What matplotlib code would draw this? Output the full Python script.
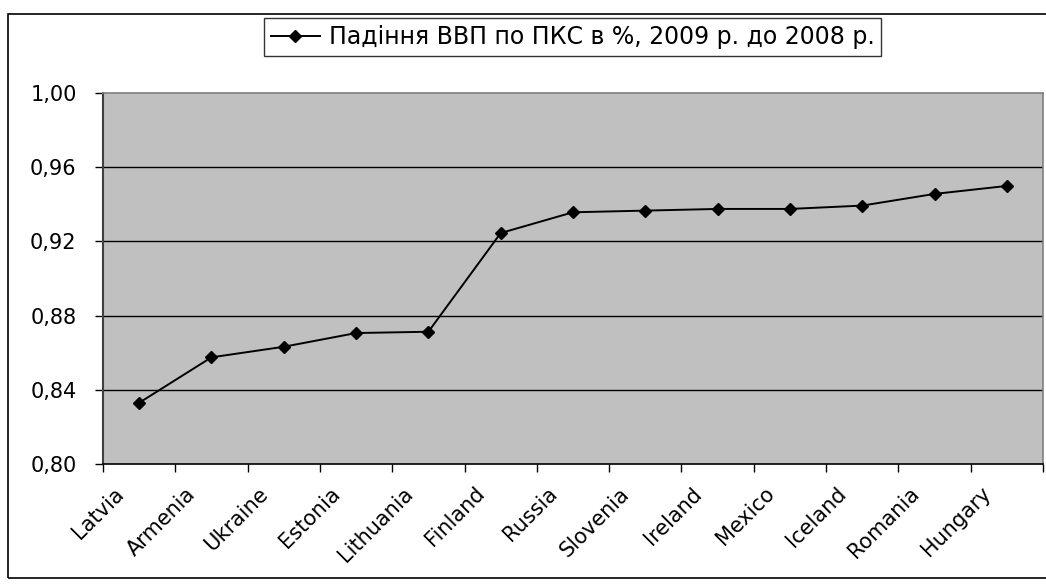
import matplotlib
matplotlib.use("Agg")
import matplotlib.pyplot as plt
from matplotlib.patches import Rectangle
from matplotlib.ticker import FixedLocator, FuncFormatter
from matplotlib.transforms import ScaledTranslation

countries = ["Latvia", "Armenia", "Ukraine", "Estonia", "Lithuania", "Finland",
             "Russia", "Slovenia", "Ireland", "Mexico", "Iceland", "Romania", "Hungary"]
values = [0.833, 0.8575, 0.8632, 0.8706, 0.8713, 0.9245,
          0.9357, 0.9366, 0.9375, 0.9375, 0.9393, 0.9456, 0.9499]
yticks = [0.80, 0.84, 0.88, 0.92, 0.96, 1.00]
series_label = "Падіння ВВП по ПКС в %, 2009 р. до 2008 р."

plt.rcParams['font.family'] = ['DejaVu Sans']

W, H = 1046, 584
fig = plt.figure(figsize=(W / 100, H / 100), dpi=100)
fig.patch.set_facecolor("white")

# outer chart border
fig.patches.append(Rectangle((8 / W, 1 - 578 / H), 1.2, (578 - 13.5) / H,
                             transform=fig.transFigure, fill=False,
                             edgecolor="black", lw=1.2))

left, right, top, bottom = 103, 1043, 93, 464
ax = fig.add_axes([left / W, 1 - bottom / H, (right - left) / W, (bottom - top) / H])
ax.set_facecolor("#c0c0c0")

x = list(range(len(countries)))
line, = ax.plot(x, values, color="black", lw=1.4, marker="D", markersize=6.5,
                markerfacecolor="black", markeredgecolor="black",
                label=series_label, zorder=3)

ax.set_xlim(-0.5, len(countries) - 0.5)
ax.set_ylim(0.80, 1.00)

ax.set_yticks(yticks)
ax.yaxis.set_major_formatter(FuncFormatter(lambda v, p: f"{v:.2f}".replace(".", ",")))
for yv in yticks[1:-1]:
    ax.axhline(yv, color="black", lw=1.0, zorder=1)

ax.xaxis.set_minor_locator(FixedLocator([i - 0.5 for i in range(len(countries) + 1)]))
ax.tick_params(axis="x", which="major", length=0, pad=14, labelsize=15)
ax.tick_params(axis="x", which="minor", length=6, width=1, color="black", direction="out")
ax.tick_params(axis="y", which="major", length=6, width=1, color="black", direction="out",
               pad=13, labelsize=15)

ax.set_xticks(x)
ax.set_xticklabels(countries, rotation=45, ha="right", rotation_mode="anchor")
shift = ScaledTranslation(-26 / 100, 0, fig.dpi_scale_trans)
for tick in ax.xaxis.get_major_ticks():
    tick.label1.set_transform(tick.label1.get_transform() + shift)

for s in ("top", "right"):
    ax.spines[s].set_color("#808080")
    ax.spines[s].set_linewidth(1.2)
ax.spines["left"].set_color("#404040")
ax.spines["left"].set_linewidth(1.5)
ax.spines["bottom"].set_color("black")
ax.spines["bottom"].set_linewidth(1.2)

leg = fig.legend(handles=[line], loc="center", bbox_to_anchor=(572.5 / W, 1 - 37 / H),
                 frameon=True, fancybox=False, fontsize=17, handlelength=2.1,
                 handletextpad=0.35, borderpad=0.3, borderaxespad=0)
leg.get_frame().set_edgecolor("black")
leg.get_frame().set_linewidth(1.0)

fig.savefig("out.png", dpi=100)
